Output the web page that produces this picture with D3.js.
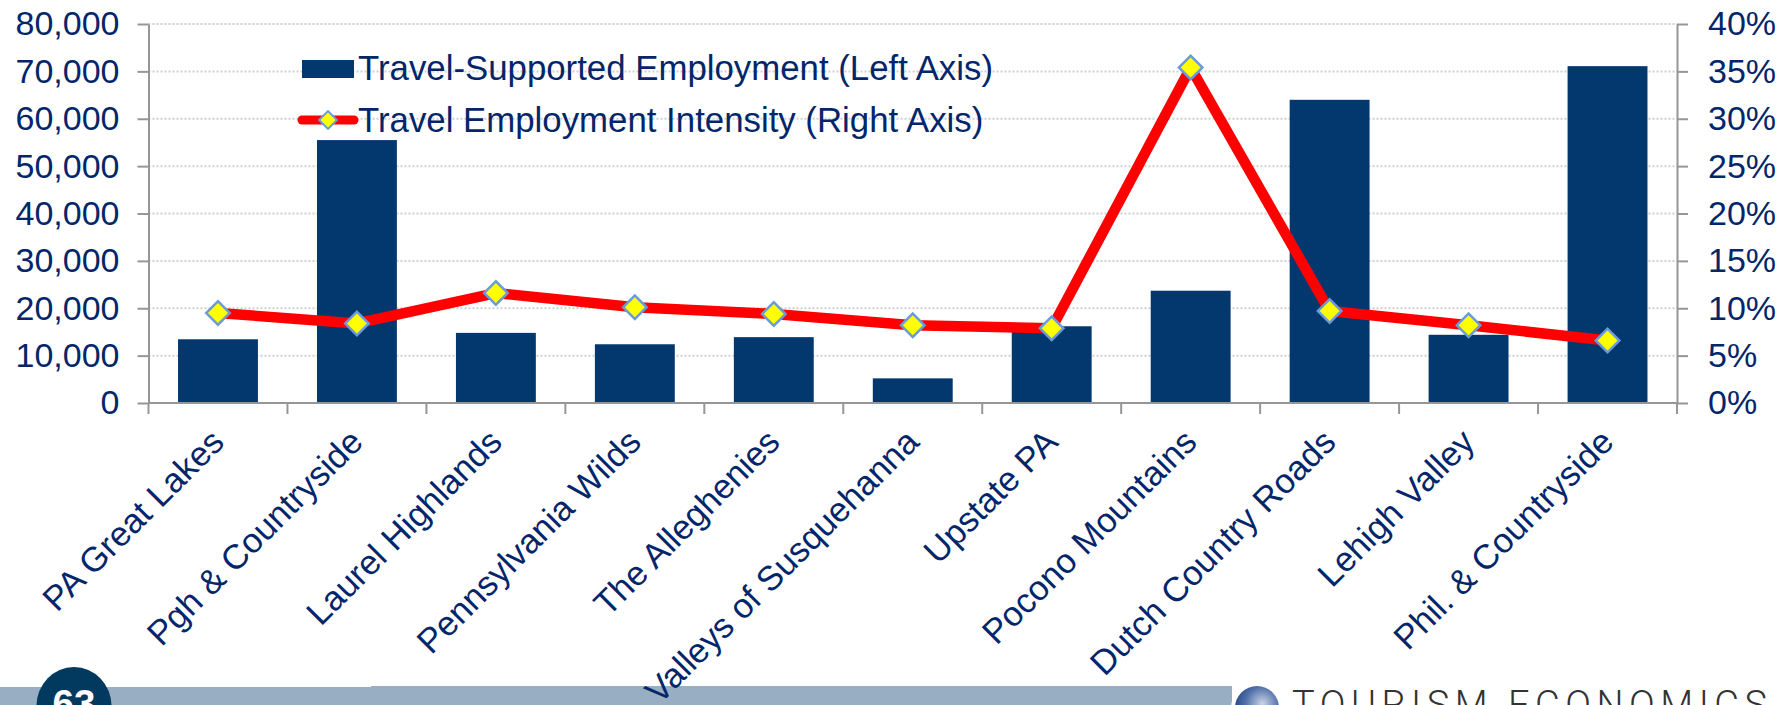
<!DOCTYPE html>
<html>
<head>
  <script src="https://d3js.org/d3.v7.min.js"></script>
  <style>
    html, body { margin: 0; padding: 0; background: #fff; overflow: hidden; }
    text { font-family: "Liberation Sans", Arial, sans-serif; fill: #03266a; }
    .axis path, .axis line { stroke: #969696; stroke-width: 2; }
    .axis text { font-size: 34px; fill: #03266a; }
  </style>
</head>
<body>
  <div id="chart"></div>
  <script>
    var regions = ["PA Great Lakes", "Pgh & Countryside", "Laurel Highlands", "Pennsylvania Wilds",
      "The Alleghenies", "Valleys of Susquehanna", "Upstate PA", "Pocono Mountains",
      "Dutch Country Roads", "Lehigh Valley", "Phil. & Countryside"];
    var employment = [13450, 55500, 14800, 12400, 13900, 5200, 16200, 23700, 64000, 14400, 71100];
    var intensity = [0.095, 0.084, 0.116, 0.101, 0.094, 0.082, 0.079, 0.354, 0.097, 0.082, 0.066];
    var leftTicks = [0, 10000, 20000, 30000, 40000, 50000, 60000, 70000, 80000];
    var rightTicks = [0, 0.05, 0.10, 0.15, 0.20, 0.25, 0.30, 0.35, 0.40];
    var legendLabels = ["Travel-Supported Employment (Left Axis)", "Travel Employment Intensity (Right Axis)"];

    var width = 1789, height = 705;
    var margin = {top: 24, left: 148.5, right: 112, bottom: 302};

    var svg = d3.select("#chart").append("svg")
      .attr("width", width)
      .attr("height", height)
      .style("display", "block");

    /* footer band, page number and logo sit behind the chart */
    var defs = svg.append("defs");
    var globeGrad = defs.append("radialGradient").attr("id", "globe")
      .attr("cx", "62%").attr("cy", "40%").attr("r", "70%");
    globeGrad.append("stop").attr("offset", "0%").attr("stop-color", "#c9d3e6");
    globeGrad.append("stop").attr("offset", "55%").attr("stop-color", "#4f6fa8");
    globeGrad.append("stop").attr("offset", "100%").attr("stop-color", "#1d3f80");

    svg.append("rect").attr("x", 0).attr("y", 687).attr("width", 371).attr("height", 18).attr("fill", "#98aec3");
    svg.append("rect").attr("x", 371).attr("y", 686).attr("width", 861).attr("height", 19).attr("fill", "#98aec3");
    svg.append("ellipse").attr("cx", 74).attr("cy", 706).attr("rx", 37.5).attr("ry", 39).attr("fill", "#023a5f");
    svg.append("text").attr("x", 74).attr("y", 717).attr("text-anchor", "middle")
      .style("font-size", "38.5px").style("font-weight", "bold").style("fill", "#fff").text("63");
    svg.append("circle").attr("cx", 1257).attr("cy", 708).attr("r", 26).attr("fill", "#fff");
    svg.append("circle").attr("cx", 1257).attr("cy", 708).attr("r", 22).attr("fill", "url(#globe)");
    svg.append("text").attr("x", 1292).attr("y", 718)
      .attr("textLength", 475).attr("lengthAdjust", "spacing")
      .style("font-family", "Roboto, sans-serif").style("font-weight", 300)
      .style("font-size", "38px").style("fill", "#333")
      .text("TOURISM ECONOMICS");

    /* scales */
    var x = d3.scaleBand()
      .domain(regions)
      .range([margin.left, width - margin.right])
      .paddingInner(0.425)
      .paddingOuter(0.2125);
    var yLeft = d3.scaleLinear().domain([0, 80000]).range([height - margin.bottom, margin.top]);
    var yRight = d3.scaleLinear().domain([0, 0.4]).range([height - margin.bottom, margin.top]);
    var center = function(d) { return x(d) + x.bandwidth() / 2; };

    /* dotted gridlines */
    svg.append("g").selectAll("line")
      .data(leftTicks.slice(1))
      .enter().append("line")
        .attr("x1", margin.left)
        .attr("x2", width - margin.right)
        .attr("y1", function(d) { return yLeft(d); })
        .attr("y2", function(d) { return yLeft(d); })
        .attr("stroke", "#d0d0d0")
        .attr("stroke-width", 2)
        .attr("stroke-dasharray", "2 2");

    /* bars */
    svg.append("g").selectAll("rect")
      .data(regions)
      .enter().append("rect")
        .attr("x", function(d) { return x(d); })
        .attr("y", function(d, i) { return yLeft(employment[i]); })
        .attr("width", x.bandwidth())
        .attr("height", function(d, i) { return yLeft(0) - yLeft(employment[i]); })
        .attr("fill", "#03386f");

    /* axes */
    svg.append("g").attr("class", "axis")
      .attr("transform", "translate(" + margin.left + ",0)")
      .call(d3.axisLeft(yLeft).tickValues(leftTicks).tickFormat(d3.format(",")).tickSize(11).tickSizeOuter(0).tickPadding(18));
    svg.append("g").attr("class", "axis")
      .attr("transform", "translate(" + (width - margin.right) + ",0)")
      .call(d3.axisRight(yRight).tickValues(rightTicks).tickFormat(d3.format(".0%")).tickSize(11).tickSizeOuter(0).tickPadding(20));

    /* category axis: ticks fall between the bands, so it is drawn from the band edges */
    var step = x.step();
    var base = svg.append("g").attr("class", "axis").attr("transform", "translate(0," + yLeft(0) + ")");
    base.append("line").attr("x1", margin.left).attr("x2", width - margin.right);
    base.selectAll(".sep")
      .data(regions)
      .enter().append("line")
        .attr("class", "sep")
        .attr("x1", function(d) { return center(d) - step / 2; })
        .attr("x2", function(d) { return center(d) - step / 2; })
        .attr("y2", 11);
    base.append("line")
      .attr("x1", width - margin.right).attr("x2", width - margin.right).attr("y2", 11);
    base.selectAll("text")
      .data(regions)
      .enter().append("text")
        .attr("text-anchor", "end")
        .attr("transform", function(d) { return "translate(" + (center(d) + 8) + ",41) rotate(-45)"; })
        .style("font-size", "34.5px")
        .text(function(d) { return d; });

    /* line with diamonds */
    var line = d3.line()
      .x(function(d) { return center(d); })
      .y(function(d, i) { return yRight(intensity[i]); });
    svg.append("path")
      .datum(regions)
      .attr("d", line)
      .attr("fill", "none")
      .attr("stroke", "#ff0000")
      .attr("stroke-width", 10.5)
      .attr("stroke-linejoin", "round");

    svg.append("g").selectAll("path")
      .data(regions)
      .enter().append("path")
        .attr("d", d3.symbol().type(d3.symbolSquare).size(276))
        .attr("transform", function(d, i) { return "translate(" + center(d) + "," + yRight(intensity[i]) + ") rotate(45)"; })
        .attr("fill", "#ffff00")
        .attr("stroke", "#6a9bd8")
        .attr("stroke-width", 2.5);

    /* legend */
    var legend = svg.append("g");
    legend.append("rect").attr("x", 302).attr("y", 60).attr("width", 52).attr("height", 18).attr("fill", "#03386f");
    legend.append("line").attr("x1", 302).attr("x2", 354).attr("y1", 120).attr("y2", 120)
      .attr("stroke", "#ff0000").attr("stroke-width", 9).attr("stroke-linecap", "round");
    legend.append("path").attr("d", d3.symbol().type(d3.symbolSquare).size(160))
      .attr("transform", "translate(328,120) rotate(45)")
      .attr("fill", "#ffff00").attr("stroke", "#6a9bd8").attr("stroke-width", 2);
    legend.selectAll("text")
      .data(legendLabels)
      .enter().append("text")
        .attr("x", 358)
        .attr("y", function(d, i) { return 80 + i * 52; })
        .style("font-size", "34.8px")
        .text(function(d) { return d; });
  </script>
</body>
</html>
